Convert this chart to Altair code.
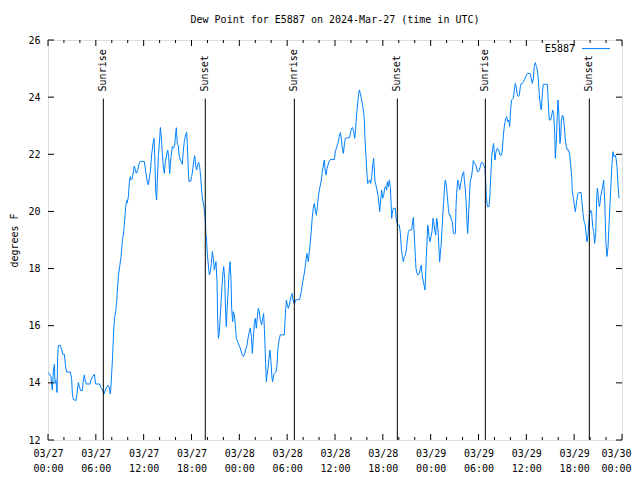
import altair as alt
import pandas as pd

# ---- data (hours since 2024-03-27 00:00 UTC, dew point in F)
hours_1 = [0.0, 0.38, 0.54, 0.67, 0.8, 0.88, 1.0, 1.13, 1.21, 1.3, 1.55, 1.72, 1.84, 2.05, 2.22, 2.34,
           2.8, 2.97, 3.05, 3.18, 3.51, 3.64, 3.81, 3.93, 4.1, 4.31, 4.39, 4.56, 4.64, 4.81, 5.27, 5.39,
           5.6, 5.81, 5.98, 6.48, 6.61, 6.86, 7.02, 7.19, 7.4, 7.57, 7.69, 7.82, 7.9, 7.99, 8.11, 8.24,
           8.36, 8.49, 8.61, 8.7, 8.82, 8.99, 9.16, 9.32, 9.49, 9.62, 9.74, 9.87, 9.95, 10.08, 10.2,
           10.33, 10.41, 10.58, 10.75, 10.83, 10.96, 11.08, 11.25, 11.41, 11.58, 12.08, 12.25, 12.42,
           12.59, 12.71, 12.84, 13.0, 13.17, 13.3, 13.38, 13.51, 13.63, 13.71, 13.84, 14.01, 14.09,
           14.17, 14.26, 14.34, 14.47, 14.59, 14.72, 14.89, 15.01, 15.14, 15.26]
dew_1 = [14.37, 14.22, 13.75, 14.39, 14.65, 13.98, 14.08, 13.66, 14.92, 15.31, 15.31, 15.15, 15.0, 15.0,
         14.54, 14.38, 14.38, 14.12, 13.63, 13.42, 13.38, 13.63, 14.01, 13.87, 13.73, 13.73, 14.01, 14.28,
         14.12, 13.96, 13.96, 14.1, 14.22, 14.3, 13.96, 13.96, 13.84, 13.75, 13.61, 13.75, 13.87, 13.91,
         13.82, 13.61, 13.87, 14.33, 14.98, 15.85, 16.32, 16.49, 16.82, 17.25, 17.72, 18.07, 18.42,
         18.94, 19.29, 19.7, 20.14, 20.38, 20.31, 20.52, 21.01, 21.22, 21.1, 21.16, 21.48, 21.59, 21.45,
         21.34, 21.45, 21.65, 21.75, 21.75, 21.39, 21.1, 20.93, 21.16, 21.39, 21.98, 22.36, 22.56, 22.03,
         20.69, 20.4, 21.1, 21.92, 22.56, 22.94, 22.74, 22.39, 22.03, 21.57, 21.33, 21.74, 21.98, 22.15,
         21.92, 21.33]

hours_2 = [15.43, 15.6, 15.76, 15.89, 16.01, 16.1, 16.22, 16.35, 16.43, 16.6, 16.73, 16.85, 16.98, 17.1,
           17.27, 17.39, 17.48, 17.6, 17.69, 17.9, 18.02, 18.15, 18.27, 18.4, 18.52, 18.65, 18.77, 18.9,
           19.02, 19.15, 19.28, 19.4, 19.53, 19.65, 19.74, 19.82, 19.9, 19.99, 20.11, 20.24, 20.36, 20.49,
           20.61, 20.74, 20.86, 20.95, 21.07, 21.2, 21.28, 21.37, 21.49, 21.62, 21.78, 21.91, 22.04, 22.16,
           22.29, 22.37, 22.45, 22.58, 22.7, 22.83, 22.95, 23.04, 23.16, 23.25, 23.37, 23.5, 23.62, 23.79,
           23.96, 24.13, 24.29, 24.5, 24.63, 24.79, 24.96, 25.09, 25.25, 25.38, 25.51, 25.63, 25.76, 25.88,
           26.01, 26.13, 26.26, 26.38, 26.51, 26.63, 26.8, 26.93, 27.05, 27.14, 27.22, 27.3, 27.39, 27.47,
           27.6, 27.72, 27.85, 27.97, 28.1, 28.18, 28.31, 28.43, 28.6, 28.72, 28.85, 28.98, 29.14, 29.64,
           29.77, 29.9, 30.02, 30.15, 30.27]
dew_2 = [21.92, 22.27, 22.21, 22.32, 22.73, 22.93, 22.35, 22.3, 22.0, 21.8, 21.74, 21.65, 22.15, 22.44,
         22.68, 22.77, 22.33, 21.45, 21.04, 21.06, 21.22, 21.45, 21.74, 21.95, 21.62, 21.45, 21.65, 21.72,
         21.57, 21.22, 20.69, 20.4, 20.23, 19.93, 19.64, 19.18, 18.94, 18.48, 18.13, 17.78, 17.89, 18.18,
         18.59, 18.36, 17.95, 18.07, 18.24, 17.54, 16.26, 15.56, 15.79, 16.38, 17.19, 17.72, 18.07, 17.66,
         16.38, 15.97, 16.49, 17.13, 17.78, 18.24, 17.66, 16.61, 16.14, 16.49, 16.38, 16.03, 15.56, 15.44,
         15.32, 15.21, 15.03, 14.92, 14.98, 15.15, 15.32, 15.56, 15.79, 15.91, 15.62, 15.03, 15.56, 16.08,
         16.26, 15.91, 16.32, 16.61, 16.49, 16.2, 16.03, 16.26, 16.43, 15.91, 15.32, 14.68, 14.04, 14.28,
         14.51, 14.86, 15.15, 14.74, 14.16, 14.04, 14.28, 14.33, 14.39, 14.62, 15.21, 15.5, 15.68, 15.68,
         16.38, 16.9, 16.73, 16.61, 16.73]

hours_3 = [30.48, 30.61, 30.73, 30.9, 31.07, 31.57, 31.74, 31.86, 31.99, 32.11, 32.24, 32.36, 32.49, 32.57,
           32.66, 32.78, 32.91, 33.03, 33.16, 33.28, 33.41, 33.53, 33.66, 33.79, 33.91, 34.04, 34.16, 34.29,
           34.41, 34.54, 34.66, 34.75, 34.87, 35.0, 35.12, 35.25, 35.42, 35.92, 36.04, 36.17, 36.29, 36.42,
           36.54, 36.67, 36.8, 36.92, 37.05, 37.17, 37.3, 37.84, 37.97, 38.09, 38.22, 38.34, 38.47, 38.59,
           38.68, 38.8, 38.93, 39.05, 39.18, 39.3, 39.43, 39.56, 39.68, 39.76, 39.89, 40.02, 40.1, 40.22,
           40.35, 40.47, 40.6, 40.73, 40.85, 40.93, 41.02, 41.14, 41.27, 41.39, 41.52, 41.6, 41.73, 41.85,
           41.98, 42.11, 42.23, 42.36, 42.48, 42.57, 42.69, 42.82, 42.94, 43.03, 43.11, 43.19, 43.32, 43.57,
           43.69, 43.82, 43.95, 44.07, 44.2, 44.32, 44.45, 44.57, 44.7, 44.82, 44.95, 45.07, 45.2, 45.32]
dew_3 = [17.02, 17.13, 16.9, 16.76, 16.9, 16.92, 17.13, 17.37, 17.6, 17.77, 18.01, 18.3, 18.53, 18.36,
         18.24, 18.59, 18.94, 19.35, 19.82, 20.11, 20.28, 20.05, 19.87, 20.17, 20.52, 20.75, 20.92, 21.1,
         21.39, 21.62, 21.8, 21.45, 21.27, 21.51, 21.62, 21.74, 21.82, 21.82, 22.09, 22.21, 22.32, 22.44,
         22.62, 22.76, 22.56, 22.21, 22.03, 22.32, 22.56, 22.59, 22.79, 22.91, 22.94, 22.79, 22.56, 22.91,
         23.26, 23.67, 24.02, 24.25, 24.13, 23.96, 23.78, 23.55, 23.2, 22.56, 21.92, 21.27, 20.98, 21.04,
         21.1, 20.98, 21.22, 21.62, 21.86, 21.45, 21.04, 20.92, 20.75, 20.57, 20.28, 19.99, 20.4, 20.75,
         20.46, 20.57, 20.81, 20.87, 20.75, 21.04, 20.87, 21.1, 20.87, 20.34, 19.76, 19.93, 20.11, 20.11,
         19.7, 19.58, 19.52, 19.52, 19.23, 18.71, 18.42, 18.24, 18.42, 18.47, 18.65, 19.0, 19.29, 19.35]

hours_4 = [45.62, 45.74, 45.83, 45.91, 46.0, 46.08, 46.16, 46.29, 46.41, 46.58, 46.71, 46.83, 46.91, 47.04,
           47.17, 47.29, 47.37, 47.46, 47.54, 47.63, 47.71, 47.79, 47.92, 48.04, 48.17, 48.29, 48.38, 48.5,
           48.63, 48.75, 48.84, 48.96, 49.05, 49.13, 49.21, 49.3, 49.38, 49.51, 49.63, 49.76, 49.84, 49.97,
           50.09, 50.22, 50.34, 50.47, 50.59, 50.72, 50.85, 50.97, 51.1, 51.18, 51.26, 51.39, 51.51, 51.64,
           51.76, 51.89, 52.02, 52.14, 52.22, 52.35, 52.48, 52.56, 52.64, 52.73, 52.85, 52.98, 53.1, 53.23,
           53.35, 53.48, 53.6, 53.73, 53.86, 53.98, 54.11, 54.23, 54.36, 54.52, 54.65, 54.73, 54.82, 54.9,
           54.98, 55.11, 55.32, 55.44, 55.57, 55.65, 55.78, 55.9, 55.99, 56.07, 56.16]
dew_4 = [19.35, 19.64, 19.79, 19.35, 18.88, 18.42, 18.01, 17.83, 17.77, 17.83, 18.01, 18.12, 17.83, 17.6,
         17.42, 17.25, 17.77, 18.42, 18.94, 19.52, 19.41, 19.12, 18.94, 19.12, 19.29, 19.76, 19.64, 19.35,
         19.17, 19.76, 19.64, 19.17, 18.65, 18.24, 18.53, 18.77, 19.17, 19.82, 20.34, 20.92, 21.1, 20.92,
         20.52, 20.11, 19.87, 19.87, 19.7, 19.64, 19.23, 19.21, 19.23, 20.17, 20.63, 21.1, 20.98, 20.75,
         20.98, 21.16, 21.33, 21.39, 21.1, 20.75, 20.17, 19.58, 19.23, 19.7, 20.46, 21.1, 21.16, 21.45,
         21.78, 21.68, 21.66, 21.57, 21.39, 21.39, 21.45, 21.57, 21.71, 21.71, 21.63, 21.57, 21.51, 21.1,
         20.52, 20.17, 20.17, 20.63, 21.39, 21.92, 22.21, 22.38, 22.03, 21.8, 22.03]

hours_5 = [56.2, 56.36, 56.53, 56.7, 56.87, 56.99, 57.12, 57.24, 57.37, 57.54, 57.66, 57.79, 57.91, 58.04,
           58.16, 58.37, 58.5, 58.62, 58.75, 58.87, 59.0, 59.12, 59.25, 59.37, 59.5, 59.63, 59.79, 59.92,
           60.13, 60.46, 60.63, 60.75, 60.88, 61.0, 61.13, 61.26, 61.38, 61.51, 61.63, 61.76, 61.88, 61.97,
           62.05, 62.13, 62.64, 62.72, 62.8, 62.89, 63.05, 63.18, 63.3, 63.43, 63.56, 63.64, 63.77, 63.89,
           63.97, 64.06, 64.14, 64.22, 64.31, 64.39, 64.52, 64.64, 64.77, 64.89, 65.02, 65.14, 65.31, 65.44,
           65.56, 65.69, 65.77, 65.9, 66.02, 66.15, 66.23, 66.36, 66.48, 66.61, 66.86, 66.98, 67.11, 67.24,
           67.36, 67.49, 67.61, 67.74, 67.82, 67.95, 68.07, 68.2, 68.32, 68.45, 68.57, 68.7, 68.82, 68.91,
           68.99, 69.08, 69.16, 69.24, 69.33, 69.45, 69.58, 69.7, 69.83, 69.91, 69.99, 70.12, 70.25, 70.37,
           70.5, 70.62, 70.75, 70.87, 71.0, 71.12, 71.25, 71.37, 71.5, 71.63]
dew_5 = [22.09, 22.21, 22.15, 21.97, 21.97, 22.15, 22.67, 22.97, 23.2, 23.32, 23.14, 23.2, 22.97, 23.61,
         23.9, 23.96, 24.25, 24.48, 24.31, 24.07, 24.02, 24.07, 24.37, 24.48, 24.48, 24.54, 24.62, 24.72,
         24.83, 24.83, 24.66, 24.48, 24.66, 25.07, 25.21, 25.07, 24.95, 24.6, 24.07, 23.73, 23.55, 23.96,
         24.25, 24.45, 24.45, 24.02, 23.55, 23.2, 23.2, 23.37, 23.55, 23.43, 22.73, 21.86, 22.5, 23.43,
         23.9, 23.55, 22.97, 22.38, 22.62, 23.14, 23.37, 23.32, 22.97, 22.5, 22.27, 22.15, 22.15, 21.97,
         21.63, 21.22, 20.69, 20.46, 20.23, 19.99, 20.17, 20.46, 20.63, 20.66, 20.66, 20.34, 19.93, 19.64,
         19.58, 19.23, 18.94, 19.17, 19.58, 19.93, 20.05, 19.93, 19.47, 19.29, 18.88, 19.23, 20.4, 20.81,
         20.63, 20.34, 20.17, 20.28, 20.52, 20.69, 20.87, 21.1, 20.4, 19.64, 18.88, 18.42, 18.77, 19.53,
         20.28, 20.98, 21.68, 22.09, 21.92, 21.97, 21.86, 21.57, 20.92, 20.46]

sunrise_hours = [6.94, 30.9, 54.86]
sunset_hours = [19.73, 43.82, 67.9]

x_major = list(range(0, 73, 6))
x_minor = [h for h in range(0, 73, 2) if h % 6 != 0]
y_major = list(range(12, 27, 2))

series_name = "E5887"
title_text = "Dew Point for E5887 on 2024-Mar-27 (time in UTC)"

# ---- layout / style constants
FONT = "DejaVu Sans Mono"
LINE_COLOR = "#0080ff"
W, H = 574, 400
X0, X1 = 0, 72
Y0, Y1 = 12, 26
MAJ_X = 6 * (X1 - X0) / W   # 6 px in hours
MAJ_Y = 6 * (Y1 - Y0) / H   # 6 px in degrees
MIN_Y = 3 * (Y1 - Y0) / H
EVENT_TOP = 23.95
EVENT_LABEL_Y = 24.2
LEGEND_TEXT_X, LEGEND_Y = 66.1, 25.7
LEGEND_LINE = (66.98, 70.5)

df = pd.DataFrame({
    "hour": hours_1 + hours_2 + hours_3 + hours_4 + hours_5,
    "dew": dew_1 + dew_2 + dew_3 + dew_4 + dew_5,
})
events = pd.DataFrame({
    "hour": sunrise_hours + sunset_hours,
    "label": ["Sunrise"] * len(sunrise_hours) + ["Sunset"] * len(sunset_hours),
})
xmaj = pd.DataFrame({"h": x_major})
xmin = pd.DataFrame({"h": x_minor})
ymaj = pd.DataFrame({"v": y_major})

xs = alt.Scale(domain=[X0, X1], nice=False, zero=False)
ys = alt.Scale(domain=[Y0, Y1], nice=False, zero=False)

label_expr = ("['03/' + (27 + floor(datum.value / 24)), "
              "(datum.value % 24 < 10 ? '0' : '') + (datum.value % 24) + ':00']")

line = alt.Chart(df).mark_line(color=LINE_COLOR, strokeWidth=1, clip=True).encode(
    x=alt.X("hour:Q", scale=xs, axis=alt.Axis(
        values=x_major, labelExpr=label_expr, ticks=False, domain=False, grid=False,
        labelFont=FONT, labelFontSize=10, labelColor="black", labelPadding=8,
        labelLineHeight=15, labelFlush=False, labelOverlap=False, labelBound=False,
        labelOffset={"condition": {"test": "datum.value == 72", "value": -6}, "value": 0},
        title=None)),
    y=alt.Y("dew:Q", scale=ys, axis=alt.Axis(
        values=y_major, ticks=False, domain=False, grid=False,
        labelFont=FONT, labelFontSize=10, labelColor="black", labelPadding=8,
        title="degrees F", titleFont=FONT, titleFontSize=10, titleFontWeight="normal",
        titleColor="black", titlePadding=8)),
)

rules = alt.Chart(events).mark_rule(color="black", strokeWidth=1).encode(
    x=alt.X("hour:Q", scale=xs), y=alt.datum(Y0), y2=alt.datum(EVENT_TOP))
labels = alt.Chart(events).mark_text(
    angle=270, align="left", baseline="middle", font=FONT, fontSize=10, color="black"
).encode(x=alt.X("hour:Q", scale=xs), y=alt.datum(EVENT_LABEL_Y), text="label:N")

tick_style = dict(color="black", strokeWidth=1)
xt_bot = alt.Chart(xmaj).mark_rule(**tick_style).encode(
    x=alt.X("h:Q", scale=xs), y=alt.datum(Y0), y2=alt.datum(Y0 + MAJ_Y))
xt_top = alt.Chart(xmaj).mark_rule(**tick_style).encode(
    x=alt.X("h:Q", scale=xs), y=alt.datum(Y1), y2=alt.datum(Y1 - MAJ_Y))
xm_bot = alt.Chart(xmin).mark_rule(**tick_style).encode(
    x=alt.X("h:Q", scale=xs), y=alt.datum(Y0), y2=alt.datum(Y0 + MIN_Y))
xm_top = alt.Chart(xmin).mark_rule(**tick_style).encode(
    x=alt.X("h:Q", scale=xs), y=alt.datum(Y1), y2=alt.datum(Y1 - MIN_Y))
yt_left = alt.Chart(ymaj).mark_rule(**tick_style).encode(
    y=alt.Y("v:Q", scale=ys), x=alt.datum(X0), x2=alt.datum(X0 + MAJ_X))
yt_right = alt.Chart(ymaj).mark_rule(**tick_style).encode(
    y=alt.Y("v:Q", scale=ys), x=alt.datum(X1), x2=alt.datum(X1 - MAJ_X))

leg = pd.DataFrame({"name": [series_name]})
leg_text = alt.Chart(leg).mark_text(
    align="right", baseline="middle", font=FONT, fontSize=10, color="black"
).encode(x=alt.datum(LEGEND_TEXT_X), y=alt.datum(LEGEND_Y), text="name:N")
leg_line = alt.Chart(leg).mark_rule(color=LINE_COLOR, strokeWidth=1).encode(
    x=alt.datum(LEGEND_LINE[0]), x2=alt.datum(LEGEND_LINE[1]), y=alt.datum(LEGEND_Y))

chart = alt.layer(
    line, rules, labels, xt_bot, xt_top, xm_bot, xm_top, yt_left, yt_right, leg_text, leg_line
).properties(
    width=W, height=H,
    title=alt.TitleParams(title_text, font=FONT, fontSize=10, fontWeight="normal",
                          color="black", anchor="middle", offset=10),
    autosize=alt.AutoSizeParams(type="none"),
    padding={"left": 40, "top": 32, "right": 10, "bottom": 32},
).configure_view(stroke="black", strokeWidth=1).configure(background="white")

chart.save("out.html", embed_options={"renderer": "svg", "actions": False})
